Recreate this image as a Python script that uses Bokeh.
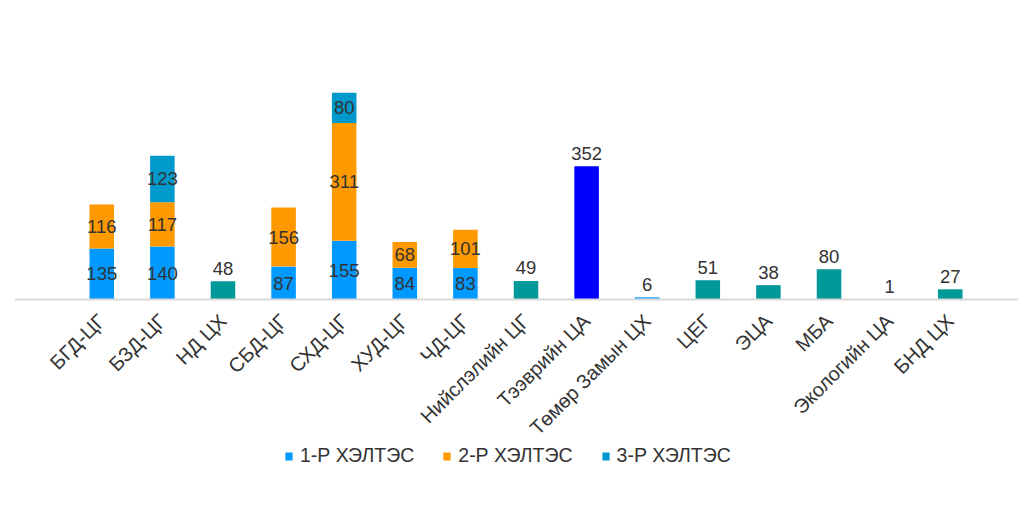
from bokeh.plotting import figure
from bokeh.models import ColumnDataSource, FactorRange, Range1d, Legend, LegendItem
from bokeh.core.properties import value
from bokeh.embed import file_html
from bokeh.resources import INLINE
import math

categories = ["БГД-ЦГ", "БЗД-ЦГ", "НД ЦХ", "СБД-ЦГ", "СХД-ЦГ", "ХУД-ЦГ", "ЧД-ЦГ",
              "Нийслэлийн ЦГ", "Тээврийн ЦА", "Төмөр Замын ЦХ", "ЦЕГ", "ЭЦА", "МБА",
              "Экологийн ЦА", "БНД ЦХ"]
series_names = ["1-Р ХЭЛТЭС", "2-Р ХЭЛТЭС", "3-Р ХЭЛТЭС"]
s1 = [135, 140, 0, 87, 155, 84, 83, 0, 0, 0, 0, 0, 0, 0, 0]
s2 = [116, 117, 0, 156, 311, 68, 101, 0, 0, 0, 0, 0, 0, 0, 0]
s3 = [0, 123, 0, 0, 80, 0, 0, 0, 0, 0, 0, 0, 0, 0, 0]
other = [0, 0, 48, 0, 0, 0, 0, 49, 352, 6, 51, 38, 80, 1, 27]

series_colors = ["#0099FF", "#FF9900", "#0099CC"]
teal = "#009999"
other_colors = [teal, teal, teal, teal, teal, teal, teal, teal, "#0000FF", "#1AA3FF",
                teal, teal, teal, teal, teal]

FONT = "Liberation Sans"
TXT = "#333333"

# frame extends below zero so that axis labels and legend share its area
p = figure(x_range=FactorRange(*categories, range_padding=0.94,
                               range_padding_units="absolute"),
           y_range=Range1d(-478, 737),
           frame_width=1023, frame_height=460, output_backend="svg", toolbar_location=None,
           min_border_left=14, min_border_right=0, min_border_top=20,
           min_border_bottom=0)
p.outline_line_color = None
p.xgrid.visible = False
p.ygrid.visible = False
p.yaxis.visible = False

src = ColumnDataSource(dict(cat=categories, s1=s1, s2=s2, s3=s3))
keys = ["s1", "s2", "s3"]
rs = p.vbar_stack(keys, x="cat", width=0.405, source=src, color=series_colors,
                  line_color=None)

# other single bars
ocat = [c for c, v in zip(categories, other) if v > 0]
oval = [v for v in other if v > 0]
ocol = [c2 for v, c2 in zip(other, other_colors) if v > 0]
osrc = ColumnDataSource(dict(cat=ocat, val=oval, col=ocol, lab=[str(v) for v in oval]))
p.vbar(x="cat", top="val", width=0.405, source=osrc, fill_color="col", line_color=None)

# inside labels for stacked series
lx, ly, lt = [], [], []
for i, c in enumerate(categories):
    base = 0
    for arr in (s1, s2, s3):
        v = arr[i]
        if v > 0:
            lx.append(c); ly.append(base + v / 2); lt.append(str(v))
        base += v
p.text(x=lx, y=ly, text=lt, text_align="center", text_baseline="middle",
       text_font=value(FONT), text_font_size="18.5px", text_color=TXT)

# outside-end labels for other bars
p.text(x="cat", y="val", text="lab", source=osrc,
       text_align="center", text_baseline="alphabetic", y_offset=-13,
       text_font=value(FONT), text_font_size="18.5px", text_color=TXT)

ax = p.xaxis[0]
ax.fixed_location = 0
ax.axis_line_color = "#D9D9D9"
ax.axis_line_width = 2
ax.major_tick_line_color = None
ax.minor_tick_line_color = None
ax.major_label_orientation = math.pi / 4
ax.major_label_standoff = 12
ax.major_label_text_font = FONT
ax.major_label_text_font_size = "20px"
ax.major_label_text_color = TXT

legend = Legend(items=[LegendItem(label=n, renderers=[r]) for n, r in zip(series_names, rs)],
                orientation="horizontal", location=(270, 13),
                glyph_width=9, glyph_height=10, label_standoff=7, spacing=28,
                label_text_font=FONT, label_text_font_size="19.5px", label_text_color=TXT,
                border_line_color=None, background_fill_alpha=0, padding=4, margin=0)
p.add_layout(legend, "center")

open("out.html", "w").write(file_html(p, INLINE))
